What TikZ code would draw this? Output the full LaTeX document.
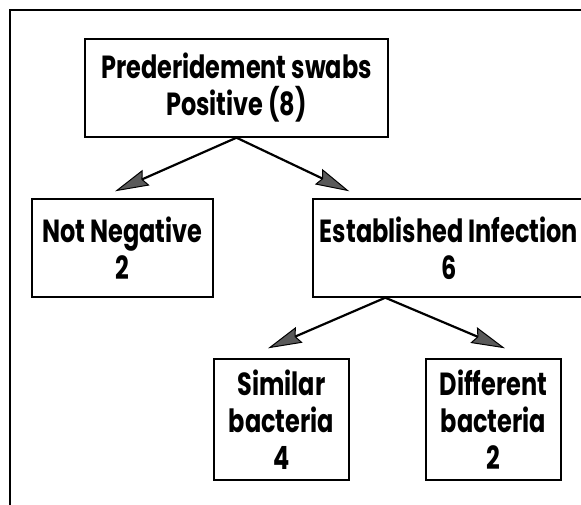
\documentclass[tikz,border=0pt]{standalone}
\usepackage{fontspec}
\setmainfont{Poppins}[FakeStretch=0.75]
\usetikzlibrary{arrows.meta,positioning}
\tikzset{
  box/.style={draw=black, line width=1.4pt, align=center, inner sep=0pt,
    font=\bfseries\fontsize{32}{37}\selectfont},
  arrow/.style={-{Stealth[length=34pt,width=17pt,inset=4pt,fill=black!65,line width=1pt]}, line width=2.2pt},
}

\begin{document}
\begin{tikzpicture}[x=1pt,y=-1pt]
  \useasboundingbox (0,0) rectangle (581,505);
  \draw[line width=2pt] (10,510) -- (10,10) -- (590,10);

  \node[box, minimum width=303pt, minimum height=98pt] (top) at (236.5,88) {Prederidement swabs\\Positive (8)};
  \node[box, minimum width=181pt, minimum height=98pt] (nneg) at (122.5,248) {Not Negative\\2};
  \node[box, minimum width=272pt, minimum height=98pt] (est) at (449,248) {Established Infection\\6};
  \node[box, minimum width=135pt, minimum height=121pt] (sim) at (281.5,419.5) {Similar\\bacteria\\4};
  \node[box, minimum width=135pt, minimum height=121pt] (diff) at (493.5,419.5) {Different\\bacteria\\2};

  \coordinate (fork) at ([xshift=73pt]est.south west);

  \draw[arrow] (top.south) -- ([xshift=-7.5pt,yshift=7pt]nneg.north);
  \draw[arrow] (top.south) -- ([xshift=37pt,yshift=7pt]est.north west);
  \draw[arrow] (fork) -- ([xshift=-13.5pt,yshift=10pt]sim.north);
  \draw[arrow] (fork) -- ([xshift=11.5pt,yshift=10pt]diff.north);
\end{tikzpicture}
\end{document}
